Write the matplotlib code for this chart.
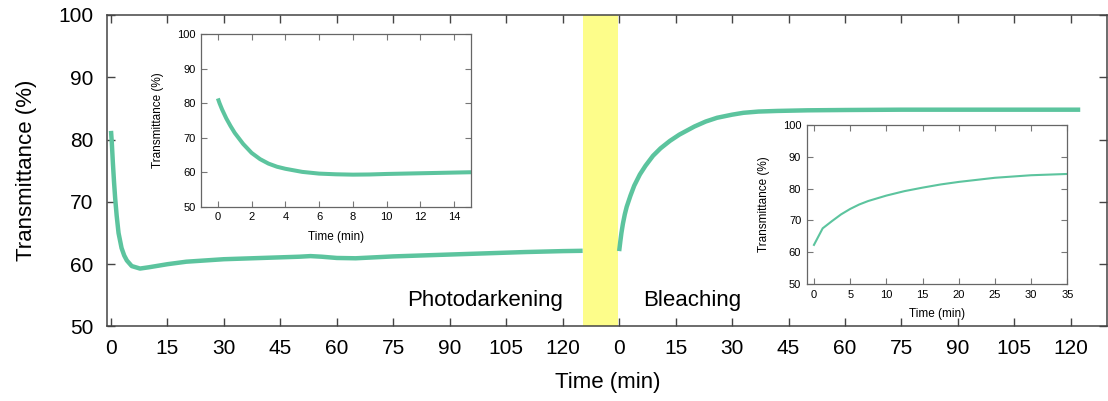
import numpy as np
import matplotlib
matplotlib.use("Agg")
import matplotlib.pyplot as plt

plt.rcParams['font.family'] = ['Liberation Sans', 'DejaVu Sans']

# --- du lieu doc tu hinh ---
# photodarkening (phut, %)
pd_t = [0, 0.2, 0.5, 0.8, 1.1, 1.5, 2, 2.8, 3.5, 4.2, 5.5, 7.7, 10, 12, 15, 20, 25, 30,
        40, 45, 50, 53, 56, 60, 65, 70, 75, 80, 90, 100, 110, 120, 125.3]
pd_v = [81.4, 79.6, 76.2, 73.2, 70.6, 67.8, 65.0, 62.6, 61.4, 60.6, 59.7, 59.3, 59.5,
        59.7, 60.0, 60.4, 60.6, 60.8, 61.0, 61.1, 61.2, 61.3, 61.2, 61.0, 60.95, 61.1,
        61.25, 61.35, 61.55, 61.75, 61.95, 62.1, 62.15]

# bleaching (phut, %)
bl_t = [0, 0.3, 0.6, 1, 1.5, 2, 3, 4, 5.5, 7, 9, 11, 13.5, 16, 20, 23, 26, 30, 33, 37,
        42, 50, 60, 75, 90, 105, 122.5]
bl_v = [62.1, 63.6, 65.0, 66.5, 68.0, 69.2, 71.0, 72.6, 74.4, 75.8, 77.4, 78.6, 79.8,
        80.8, 82.1, 82.9, 83.5, 84.0, 84.3, 84.5, 84.6, 84.7, 84.75, 84.8, 84.8, 84.8, 84.8]

# inset photodarkening, 15 phut dau
ins1_t = [0, 0.1, 0.25, 0.5, 0.75, 1, 1.5, 2, 2.5, 3, 3.5, 4, 5, 6, 7, 8, 9, 10, 12, 14, 15]
ins1_v = [81.4, 80.0, 78.2, 75.6, 73.4, 71.4, 68.2, 65.6, 63.8, 62.5, 61.6, 61.0, 60.1,
          59.6, 59.4, 59.3, 59.35, 59.5, 59.7, 59.9, 60.0]

# inset bleaching, 35 phut dau
ins2_t = [0, 1.2, 2.5, 3.75, 5, 6.25, 7.5, 10, 12.5, 15, 17.5, 20, 25, 30, 35]
ins2_v = [62.3, 67.5, 69.8, 71.9, 73.6, 75.0, 76.1, 77.8, 79.2, 80.3, 81.3, 82.1, 83.4,
          84.2, 84.6]

main_ticks = [0, 15, 30, 45, 60, 75, 90, 105, 120]
offset = 135.0          # vi tri "0" cua doan bleaching tren truc chung
band = (125.5, 134.8)   # vung vang

green = "#5cc49e"
spine_c = "#444444"

fig = plt.figure(figsize=(11.08, 4.01), dpi=100)
ax = fig.add_axes([0.0968, 0.1858, 0.9026, 0.7768])

ax.axvspan(band[0], band[1], color="#fdfd8a", lw=0, zorder=1)
ax.plot(pd_t, pd_v, color=green, lw=3.2, solid_capstyle="butt", solid_joinstyle="round", zorder=3)
ax.plot(np.array(bl_t) + offset, bl_v, color=green, lw=3.2, solid_capstyle="butt",
        solid_joinstyle="round", zorder=3)

ax.set_xlim(-1, 264.7)
ax.set_ylim(50, 100)
xt = main_ticks + [offset + t for t in main_ticks]
ax.set_xticks(xt)
ax.set_xticklabels([str(t) for t in main_ticks] * 2)
ax.set_yticks([50, 60, 70, 80, 90, 100])
ax.tick_params(direction="in", top=True, right=True, length=6, width=1, color=spine_c,
               labelsize=15)
ax.tick_params(axis="x", pad=9)
ax.tick_params(axis="y", pad=10)
for s in ax.spines.values():
    s.set_color(spine_c)
    s.set_linewidth(1.1)
ax.set_xlabel("Time (min)", fontsize=16, labelpad=10)
ax.set_ylabel("Transmittance (%)", fontsize=16)
ax.yaxis.set_label_coords(-0.07, 0.5)

ax.text(120, 53.3, "Photodarkening", fontsize=16, ha="right", va="baseline")
ax.text(141.3, 53.3, "Bleaching", fontsize=16, ha="left", va="baseline")


def style_inset(a):
    a.set_ylim(50, 100)
    a.set_yticks([50, 60, 70, 80, 90, 100])
    a.tick_params(direction="in", top=True, right=True, length=4, width=0.8,
                  color="#777777", labelsize=8, pad=4)
    for s in a.spines.values():
        s.set_color("#666666")
        s.set_linewidth(0.9)
    a.set_xlabel("Time (min)", fontsize=8.5, labelpad=6)
    a.set_ylabel("Transmittance (%)", fontsize=8.5, labelpad=9)


# inset 1: photodarkening 15 phut dau
in1 = fig.add_axes([0.1814, 0.4845, 0.2437, 0.4300])
in1.plot(ins1_t, ins1_v, color=green, lw=2.9, solid_capstyle="butt", solid_joinstyle="round")
in1.set_xlim(-1, 15)
in1.set_xticks(range(0, 15, 2))
style_inset(in1)

# inset 2: bleaching 35 phut dau
in2 = fig.add_axes([0.7281, 0.2918, 0.2352, 0.3965])
in2.plot(ins2_t, ins2_v, color=green, lw=1.5)
in2.set_xlim(-1, 35)
in2.set_xticks(range(0, 36, 5))
style_inset(in2)

fig.savefig("out.png", dpi=100)
